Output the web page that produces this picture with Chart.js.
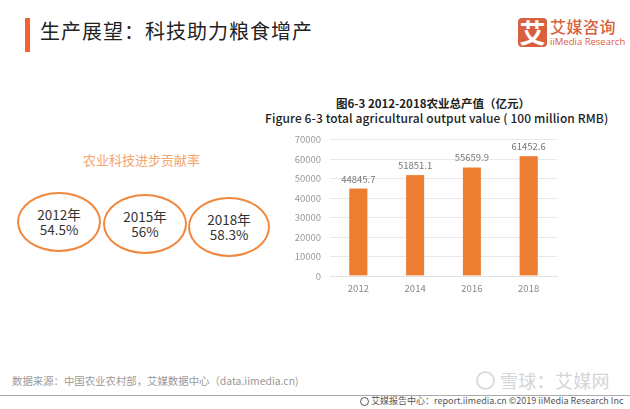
<!DOCTYPE html>
<html><head><meta charset="utf-8">
<script src="https://cdn.jsdelivr.net/npm/chart.js@4"></script>
<style>
html,body{margin:0;padding:0;background:#fff;width:630px;height:409px;overflow:hidden}
body{position:relative;font-family:"Noto Sans CJK SC","Noto Sans",sans-serif}
#c{position:absolute;left:290px;top:125px}
.t{position:absolute;white-space:nowrap;line-height:1}
.e{position:absolute;box-sizing:border-box;border:2px solid #f0883e;border-radius:50%;display:flex;flex-direction:column;align-items:center;justify-content:center;font-size:13.5px;line-height:15px;color:#333}
</style></head><body>
<div style="position:absolute;left:25px;top:18px;width:5px;height:34px;background:#f4612f"></div>
<div class="t" style="left:40px;top:21px;font-size:20px;color:#222;letter-spacing:1px">生产展望：科技助力粮食增产</div>
<div style="position:absolute;left:518px;top:18px;width:29px;height:29px;border-radius:4px;background:#d8603e;color:#fff;font-size:26px;line-height:28px;text-align:center;font-weight:700">艾</div>
<div class="t" style="left:550px;top:18px;font-size:16px;font-weight:500;color:#d8603e;letter-spacing:.5px">艾媒咨询</div>
<div class="t" style="left:550px;top:37px;font-size:9.5px;color:#d8603e;font-family:'Open Sans'">iiMedia Research</div>
<div class="t" style="left:83px;top:153px;font-size:13px;color:#f4a46c">农业科技进步贡献率</div>
<div id="ellipses"></div>
<div class="t" style="left:336px;top:98px;font-size:11.5px;font-weight:700;color:#222">图6-3 2012-2018农业总产值（亿元）</div>
<div class="t" style="left:265px;top:112px;font-size:12px;font-weight:500;color:#222;letter-spacing:.1px">Figure 6-3 total agricultural output value ( 100 million RMB)</div>
<canvas id="c" width="270" height="173" style="width:270px;height:173px"></canvas>
<div class="t" style="left:12px;top:376px;font-size:10.4px;color:#999">数据来源：中国农业农村部，艾媒数据中心（data.iimedia.cn)</div>
<div style="position:absolute;left:0;top:394.5px;width:630px;height:1.5px;background:#aaa"></div>
<div style="position:absolute;left:476px;top:371px;width:15px;height:15px;border:2px solid #dcdcdc;border-radius:50%"></div>
<div class="t" style="left:500px;top:371px;font-size:18px;color:#d5d5d5;letter-spacing:.3px">雪球：艾媒网</div>
<div style="position:absolute;left:360px;top:397px;width:7px;height:7px;border:1.5px solid #555;border-radius:50%"></div>
<div class="t" style="left:371px;top:396px;font-size:9px;color:#555">艾媒报告中心：report.iimedia.cn  ©2019  iiMedia Research  Inc</div>
<script>
const categories=["2012","2014","2016","2018"];
const outputValues=[44845.7,51851.1,55659.9,61452.6];
const valueLabels=["44845.7","51851.1","55659.9","61452.6"];
const tickValues=[0,10000,20000,30000,40000,50000,60000,70000];
const ellipseYears=["2012年","2015年","2018年"];
const ellipseRates=["54.5%","56%","58.3%"];
const boxes=[[17,192,84,60],[103,194,84,60],[188,197,82,60]];
const host=document.getElementById('ellipses');
ellipseYears.forEach((y,i)=>{const d=document.createElement('div');d.className='e';const b=boxes[i];
d.style.cssText=`left:${b[0]}px;top:${b[1]}px;width:${b[2]}px;height:${b[3]}px`;
d.innerHTML=`<span>${y}</span><span>${ellipseRates[i]}</span>`;host.appendChild(d);});
const labelPlugin={id:'vals',afterDatasetsDraw(ch){const g=ch.ctx,m=ch.getDatasetMeta(0);g.save();g.font='9.5px "Noto Sans CJK SC"';g.fillStyle='#777';g.textAlign='center';g.textBaseline='bottom';
m.data.forEach((el,i)=>g.fillText(valueLabels[i],el.x,el.y-5));g.restore();}};
new Chart(document.getElementById('c'),{type:'bar',plugins:[labelPlugin],
data:{labels:categories,datasets:[{data:outputValues,backgroundColor:'#ed7d31',borderColor:'#f4b183',borderWidth:0.5,barThickness:18}]},
options:{responsive:false,animation:false,
layout:{padding:{left:0,right:3,top:14,bottom:0}},
plugins:{legend:{display:false},tooltip:{enabled:false}},
scales:{
x:{afterFit(a){a.height=22;},grid:{display:false,drawTicks:false},border:{color:'#e2e2e2'},ticks:{color:'#888',font:{size:9.5,family:'Noto Sans CJK SC'},padding:7,maxRotation:0}},
y:{min:0,max:70000,afterFit(a){a.width=40;},afterBuildTicks(a){a.ticks=tickValues.map(v=>({value:v}));},grid:{color:'#e8e8e8',drawTicks:false,lineWidth:1},border:{display:false},
ticks:{color:'#999',font:{size:9.5,family:'Noto Sans CJK SC'},padding:9,callback:v=>String(v)}}
}}});
</script>
</body></html>
